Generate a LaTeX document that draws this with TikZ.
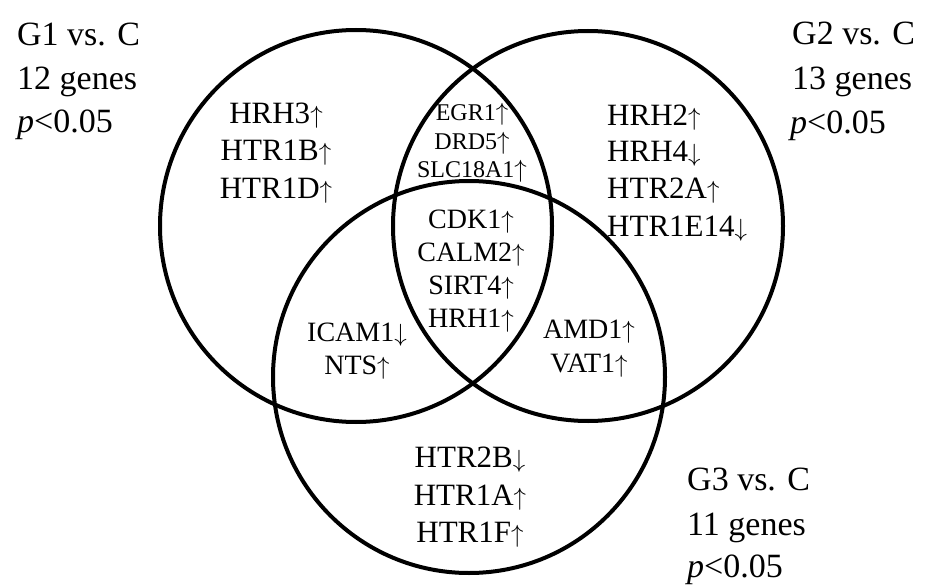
\documentclass[tikz,border=0pt]{standalone}
\usepackage{fontspec}
\setmainfont{Liberation Serif}
\newcommand{\upa}{\ensuremath{\uparrow}}
\newcommand{\dna}{\ensuremath{\downarrow}}
\begin{document}
\begin{tikzpicture}[x=1pt,y=-1pt,
  ring/.style={line width=4pt,draw=black},
  lab/.style={anchor=base west,inner sep=0pt,font=\fontsize{34}{40}\selectfont},
  gbig/.style={anchor=base,inner sep=0pt,font=\fontsize{31}{37}\selectfont},
  gbigl/.style={anchor=base west,inner sep=0pt,font=\fontsize{31}{37}\selectfont},
  gmid/.style={anchor=base,inner sep=0pt,font=\fontsize{28}{33}\selectfont},
  gsmall/.style={anchor=base,inner sep=0pt,font=\fontsize{24}{28}\selectfont}]
\useasboundingbox (0,0) rectangle (927,586);
% circles
\draw[ring] (356,226) circle[radius=196];
\draw[ring] (588,226) circle[radius=195];
\draw[ring] (469,377) circle[radius=196];
% group labels
\node[lab] (l1a) at (17,46) {G1 vs. C};
\node[lab] (l1b) at (17,90) {12 genes};
\node[lab] (l1c) at (17,132) {\textit{p}<0.05};
\node[lab] (l2a) at (792,45) {G2 vs. C};
\node[lab] (l2b) at (792,90) {13 genes};
\node[lab] (l2c) at (790,133) {\textit{p}<0.05};
\node[lab] (l3a) at (687,490) {G3 vs. C};
\node[lab] (l3b) at (687,535) {11 genes};
\node[lab] (l3c) at (687,577) {\textit{p}<0.05};
% G1 only
\node[gbig] (a1) at (276,123) {HRH3\upa};
\node[gbig] (a2) at (276,160) {HTR1B\upa};
\node[gbig] (a3) at (276,198) {HTR1D\upa};
% G2 only
\node[gbigl] (b1) at (607,125) {HRH2\upa};
\node[gbigl] (b2) at (607,161) {HRH4\dna};
\node[gbigl] (b3) at (607,198) {HTR2A\upa};
\node[gbigl] (b4) at (607,236) {HTR1E14\dna};
% G1 & G2
\node[gsmall] (c1) at (472,121) {EGR1\upa};
\node[gsmall] (c2) at (472,149) {DRD5\upa};
\node[gsmall] (c3) at (472,177) {SLC18A1\upa};
% all three
\node[gmid] (d1) at (471,228) {CDK1\upa};
\node[gmid] (d2) at (471,261) {CALM2\upa};
\node[gmid] (d3) at (471,294) {SIRT4\upa};
\node[gmid] (d4) at (471,327) {HRH1\upa};
% G1 & G3
\node[gmid] (e1) at (357,341) {ICAM1\dna};
\node[gmid] (e2) at (357,374) {NTS\upa};
% G2 & G3
\node[gmid] (f1) at (589,338) {AMD1\upa};
\node[gmid] (f2) at (589,372) {VAT1\upa};
% G3 only
\node[gbig] (h1) at (470,467) {HTR2B\dna};
\node[gbig] (h2) at (470,505) {HTR1A\upa};
\node[gbig] (h3) at (470,542) {HTR1F\upa};
\end{tikzpicture}
\end{document}
